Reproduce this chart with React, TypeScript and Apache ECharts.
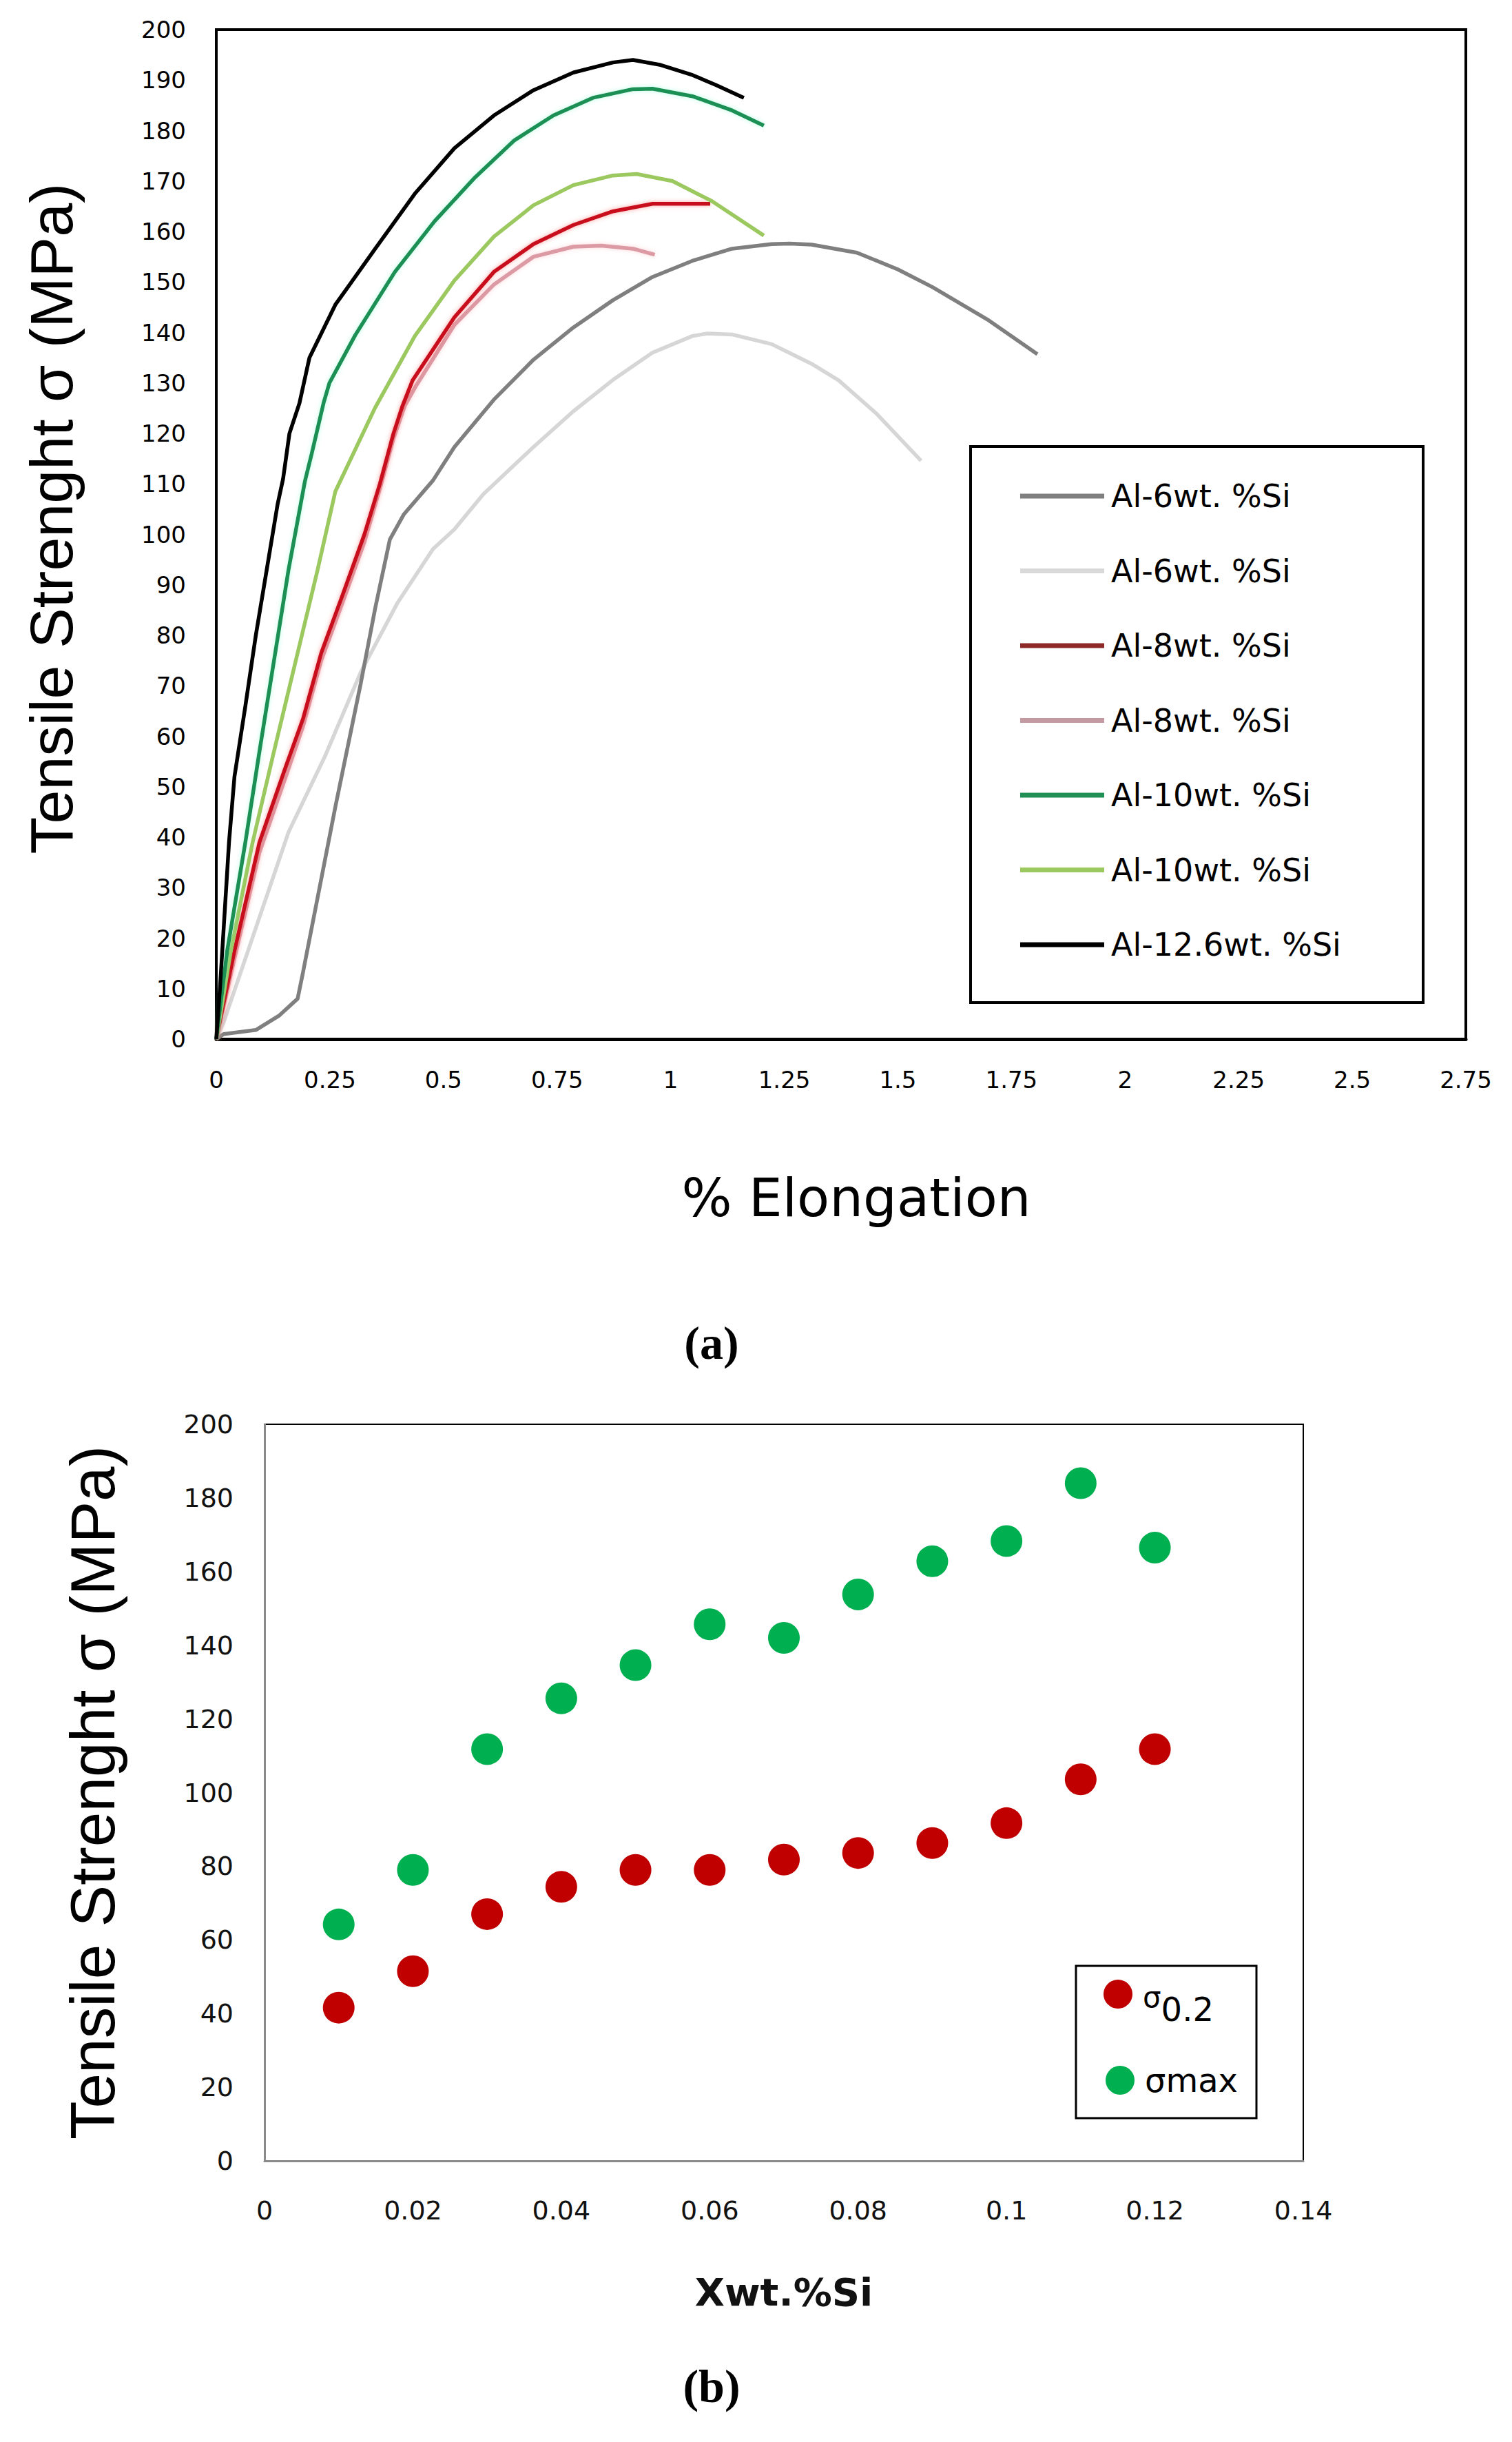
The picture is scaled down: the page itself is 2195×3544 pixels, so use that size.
import React, { useEffect, useRef } from 'react';
import * as echarts from 'echarts';

// ---------- Data (a): stress-strain curves [% elongation, MPa] ----------
const al6Dark: number[][] = [
  [0, 0], [0.016, 1], [0.087, 1.8], [0.139, 4.7], [0.179, 8], [0.191, 13.3], [0.262, 46], [0.318, 70.5],
  [0.35, 85.5], [0.382, 99], [0.413, 104], [0.477, 110.7], [0.524, 117.3], [0.611, 126.7], [0.698, 134.6],
  [0.786, 141], [0.873, 146.4], [0.96, 151], [1.048, 154.2], [1.135, 156.6], [1.222, 157.5], [1.262, 157.6],
  [1.31, 157.4], [1.41, 155.8], [1.5, 152.5], [1.576, 149], [1.7, 142.4], [1.807, 135.7],
];
const al6Light: number[][] = [
  [0, 0], [0.016, 3.3], [0.159, 41], [0.239, 56], [0.318, 72.7], [0.398, 86.3], [0.477, 97.1], [0.524, 101],
  [0.588, 108], [0.698, 117.3], [0.786, 124.4], [0.873, 130.6], [0.96, 136], [1.048, 139.3], [1.081, 139.8],
  [1.135, 139.6], [1.222, 137.7], [1.31, 133.8], [1.37, 130.5], [1.452, 124], [1.551, 114.6],
];
const al8Dark: number[][] = [
  [0, 0], [0.04, 17.5], [0.095, 39], [0.151, 53.5], [0.191, 63.5], [0.231, 76.5], [0.278, 88], [0.326, 100],
  [0.36, 110], [0.39, 120], [0.41, 125.5], [0.432, 130.5], [0.524, 143], [0.611, 152], [0.698, 157.5],
  [0.786, 161.3], [0.873, 164], [0.96, 165.5], [1.087, 165.5],
];
const al8Light: number[][] = [
  [0, 0], [0.04, 16], [0.095, 37], [0.151, 51.5], [0.191, 62], [0.231, 75], [0.278, 86.5], [0.326, 98.5],
  [0.36, 109], [0.39, 119], [0.415, 125.5], [0.44, 129.5], [0.524, 141.5], [0.611, 149.5], [0.698, 155],
  [0.786, 157], [0.847, 157.2], [0.917, 156.6], [0.965, 155.4],
];
const al10Dark: number[][] = [
  [0, 0], [0.024, 17.5], [0.064, 39], [0.095, 57], [0.127, 75], [0.159, 93], [0.195, 110.5], [0.21, 116],
  [0.236, 126], [0.249, 130], [0.306, 139.5], [0.393, 152], [0.48, 162], [0.567, 170.5], [0.655, 178],
  [0.742, 183], [0.829, 186.5], [0.917, 188.2], [0.96, 188.3], [1.048, 186.8], [1.135, 184], [1.205, 181],
];
const al10Light: number[][] = [
  [0, 0], [0.032, 17.5], [0.08, 39], [0.127, 57], [0.175, 75], [0.223, 93], [0.262, 108.5], [0.349, 125],
  [0.437, 139.3], [0.524, 150.3], [0.611, 159], [0.698, 165.2], [0.786, 169.2], [0.873, 171.1], [0.925, 171.4],
  [1.004, 170], [1.091, 166], [1.205, 159.2],
];
const al126: number[][] = [
  [0, 0], [0.008, 10], [0.028, 39], [0.04, 52], [0.064, 66], [0.087, 80], [0.111, 93], [0.135, 106],
  [0.147, 111], [0.161, 120], [0.183, 126], [0.205, 135], [0.262, 145.5], [0.349, 156.5], [0.437, 167.5],
  [0.524, 176.5], [0.611, 183], [0.698, 188], [0.786, 191.5], [0.873, 193.5], [0.917, 194], [0.978, 193],
  [1.048, 191], [1.1, 189], [1.161, 186.5],
];

const curveLabels = ['Al-6wt. %Si', 'Al-6wt. %Si', 'Al-8wt. %Si', 'Al-8wt. %Si', 'Al-10wt. %Si', 'Al-10wt. %Si', 'Al-12.6wt. %Si'];
const curveData = [al6Dark, al6Light, al8Dark, al8Light, al10Dark, al10Light, al126];
const curveLineColors = ['#7f7f7f', '#d6d6d6', '#c8101e', '#dc9aa4', '#1f8f55', '#9cc860', '#000000'];
const curveLegendColors = ['#7f7f7f', '#d9d9d9', '#8c2a2a', '#c49aa2', '#1f8f55', '#9cc860', '#000000'];
const curveGlow = ['', '', 'rgba(255,90,90,0.55)', 'rgba(255,150,160,0.4)', 'rgba(120,255,200,0.5)', '', ''];
const drawOrder = [1, 0, 3, 2, 5, 4, 6];

// ---------- Data (b): strength vs Si content ----------
const siContent = [0.01, 0.02, 0.03, 0.04, 0.05, 0.06, 0.07, 0.08, 0.09, 0.1, 0.11, 0.12];
const sigma02 = [41.6, 51.5, 67, 74.4, 79, 79, 81.8, 83.6, 86.3, 91.7, 103.6, 111.8];
const sigmaMax = [64.2, 79, 111.8, 125.6, 134.6, 145.7, 142, 153.8, 162.8, 168.3, 184, 166.5];

const seriesId = (i: number) => curveLabels[i] + '|' + i;

export default function App() {
  const ref = useRef<HTMLDivElement>(null);

  useEffect(() => {
    if (!ref.current) return;
    const chart = echarts.init(ref.current, undefined, { renderer: 'svg' });

    const topLabel = { fontFamily: 'DejaVu Sans', fontSize: 34, color: '#000' };
    const botLabel = { fontFamily: 'DejaVu Sans', fontSize: 38, color: '#111' };

    const lineSeries = drawOrder.map((i) => ({
      type: 'line',
      name: seriesId(i),
      xAxisIndex: 0,
      yAxisIndex: 0,
      data: curveData[i],
      symbol: 'none',
      smooth: false,
      itemStyle: { color: curveLegendColors[i] },
      lineStyle: {
        color: curveLineColors[i],
        width: 5.5,
        ...(curveGlow[i] ? { shadowColor: curveGlow[i], shadowBlur: 6 } : {}),
      },
    }));

    const option: any = {
      animation: false,
      backgroundColor: '#ffffff',
      grid: [
        { left: 314, top: 43, width: 1814, height: 1465, show: true, borderColor: '#000', borderWidth: 4, backgroundColor: 'transparent' },
        { left: 384, top: 2067, width: 1508, height: 1069, show: true, borderColor: '#000', borderWidth: 2, backgroundColor: 'transparent' },
      ],
      xAxis: [
        {
          gridIndex: 0, type: 'value', min: 0, max: 2.75, interval: 0.25,
          axisLine: { show: true, onZero: false, lineStyle: { color: '#000', width: 5 } },
          axisTick: { show: false }, splitLine: { show: false },
          axisLabel: { ...topLabel, margin: 42 },
          name: '% Elongation', nameLocation: 'middle', nameGap: 192,
          nameTextStyle: { fontFamily: 'DejaVu Sans', fontSize: 77, color: '#000', padding: [0, 0, 0, 44] },
        },
        {
          gridIndex: 1, type: 'value', min: 0, max: 0.14, interval: 0.02,
          axisLine: { show: true, onZero: false, lineStyle: { color: '#8a8a8a', width: 3 } },
          axisTick: { show: false }, splitLine: { show: false },
          axisLabel: { ...botLabel, margin: 53 },
          name: 'Xwt.%Si', nameLocation: 'middle', nameGap: 162,
          nameTextStyle: { fontFamily: 'DejaVu Sans', fontWeight: 'bold', fontSize: 56, color: '#111' },
        },
      ],
      yAxis: [
        {
          gridIndex: 0, type: 'value', min: 0, max: 200, interval: 10,
          axisLine: { show: true, onZero: false, lineStyle: { color: '#000', width: 4 } },
          axisTick: { show: false }, splitLine: { show: false },
          axisLabel: { ...topLabel, margin: 44 },
          name: 'Tensile Strenght σ (MPa)', nameLocation: 'middle', nameGap: 196,
          nameTextStyle: { fontFamily: 'Liberation Sans', fontSize: 88, color: '#000', padding: [0, 0, 0, 46] },
        },
        {
          gridIndex: 1, type: 'value', min: 0, max: 200, interval: 20,
          axisLine: { show: true, onZero: false, lineStyle: { color: '#8a8a8a', width: 3 } },
          axisTick: { show: false }, splitLine: { show: false },
          axisLabel: { ...botLabel, margin: 45 },
          name: 'Tensile Strenght σ (MPa)', nameLocation: 'middle', nameGap: 204,
          nameTextStyle: { fontFamily: 'Liberation Sans', fontSize: 91, color: '#000' },
        },
      ],
      legend: [
        {
          orient: 'vertical', left: 1476, top: 692,
          itemWidth: 122, itemHeight: 7, itemGap: 62.5, icon: 'rect',
          selectedMode: false,
          data: curveLabels.map((_, i) => seriesId(i)),
          formatter: (n: string) => n.split('|')[0],
          textStyle: { fontFamily: 'DejaVu Sans', fontSize: 46, lineHeight: 46, color: '#000', padding: [0, 0, 0, 5] },
        },
        {
          orient: 'vertical', left: 1597, top: 2868,
          itemWidth: 42, itemHeight: 42, icon: 'circle', selectedMode: false,
          data: ['σ0.2'],
          formatter: () => '{s|σ}{b|0.2}',
          textStyle: {
            fontFamily: 'DejaVu Sans', color: '#000', padding: [26, 0, 0, 10],
            rich: {
              s: { fontFamily: 'DejaVu Sans', fontSize: 42, lineHeight: 42, padding: [0, 0, 18, 0], color: '#000' },
              b: { fontFamily: 'DejaVu Sans', fontSize: 48, lineHeight: 48, padding: [18, 0, 0, 0], color: '#000' },
            },
          },
        },
        {
          orient: 'vertical', left: 1600, top: 2990,
          itemWidth: 42, itemHeight: 42, icon: 'circle', selectedMode: false,
          data: ['σmax'],
          textStyle: { fontFamily: 'DejaVu Sans', fontSize: 48, color: '#000', padding: [0, 0, 0, 10] },
        },
      ],
      graphic: [
        { type: 'rect', shape: { x: 1409, y: 648, width: 657, height: 807 }, style: { fill: 'none', stroke: '#000', lineWidth: 4 }, z: 5 },
        { type: 'rect', shape: { x: 1562, y: 2853, width: 262, height: 221 }, style: { fill: 'none', stroke: '#000', lineWidth: 3 }, z: 5 },
        {
          type: 'text', x: 1033, y: 1949, z: 5,
          style: { text: '(a)', fontFamily: 'Liberation Serif', fontWeight: 'bold', fontSize: 68, fill: '#000', align: 'center', verticalAlign: 'middle', textAlign: 'center', textVerticalAlign: 'middle' },
        },
        {
          type: 'text', x: 1033, y: 3463, z: 5,
          style: { text: '(b)', fontFamily: 'Liberation Serif', fontWeight: 'bold', fontSize: 68, fill: '#000', align: 'center', verticalAlign: 'middle', textAlign: 'center', textVerticalAlign: 'middle' },
        },
      ],
      series: [
        ...lineSeries,
        {
          type: 'scatter', name: 'σ0.2', xAxisIndex: 1, yAxisIndex: 1,
          data: siContent.map((x, i) => [x, sigma02[i]]),
          symbolSize: 46, itemStyle: { color: '#c00000', opacity: 1 },
        },
        {
          type: 'scatter', name: 'σmax', xAxisIndex: 1, yAxisIndex: 1,
          data: siContent.map((x, i) => [x, sigmaMax[i]]),
          symbolSize: 46, itemStyle: { color: '#00b050', opacity: 1 },
        },
      ],
    };

    chart.setOption(option);
    return () => chart.dispose();
  }, []);

  return <div ref={ref} style={{ position: 'absolute', left: 0, top: 0, width: 2195, height: 3544, background: '#fff' }} />;
}
